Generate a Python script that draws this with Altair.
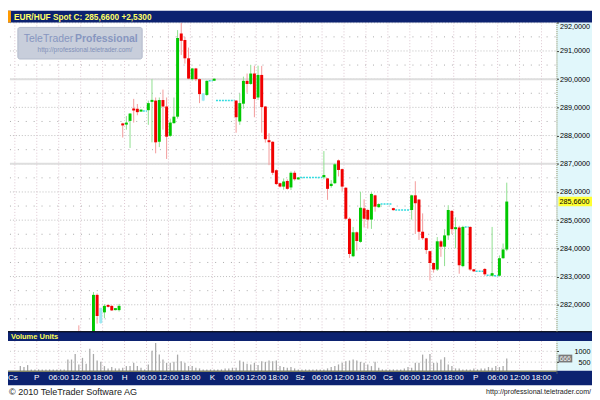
import altair as alt
import pandas as pd

# ---------------- data ----------------
# hourly candles: hour slot, open, high, low, close
hours = [11, 15, 16, 17, 18, 19, 20, 21, 22, 23, 24, 25, 26, 27, 28, 30, 31, 32, 33, 34,
         35, 36, 37, 38, 39, 40, 41, 42, 43, 44, 45, 46, 48, 54, 55, 56, 57, 58, 59, 60,
         61, 62, 63, 64, 65, 66, 67, 68, 69, 70, 71, 78, 79, 80, 81, 82, 83, 84, 85, 86,
         87, 88, 89, 90, 91, 92, 93, 97, 102, 103, 104, 105, 106, 107, 108, 109, 110, 111, 112, 113,
         114, 115, 116, 118, 119, 122, 124, 126, 127, 128]
opens = [281.00, 280.90, 282.35, 281.89, 281.73, 281.99, 281.96, 281.82, 281.81, 288.43,
         288.39, 288.52, 288.95, 288.95, 288.86, 288.90, 289.20, 289.24, 287.78, 289.26,
         289.03, 287.99, 288.44, 288.67, 291.62, 291.39, 290.74, 290.00, 290.38, 290.00,
         289.50, 289.44, 289.95, 289.24, 288.50, 289.13, 289.94, 289.83, 290.20, 289.35,
         290.15, 289.03, 287.83, 287.78, 286.77, 286.31, 286.19, 286.39, 286.16, 286.68,
         286.45, 286.52, 286.48, 286.21, 286.31, 287.12, 286.81, 286.15, 285.05, 283.72,
         284.57, 284.23, 285.42, 285.36, 285.02, 285.88, 285.46, 285.42, 285.36, 285.88,
         285.73, 284.59, 284.36, 283.90, 283.48, 283.25, 284.25, 284.06, 284.46, 285.33,
         284.68, 284.74, 283.37, 284.76, 283.25, 283.27, 283.03, 283.03, 283.65, 283.96]
highs = [281.27, 282.45, 282.40, 281.89, 282.02, 282.00, 281.98, 281.88, 282.03, 288.45,
         288.69, 288.80, 289.30, 289.12, 288.93, 289.24, 290.00, 289.35, 289.35, 289.63,
         289.35, 288.60, 289.35, 291.74, 292.00, 291.50, 291.12, 290.40, 290.40, 290.02,
         289.50, 289.96, 290.03, 289.26, 289.49, 290.09, 290.20, 290.51, 290.47, 290.48,
         290.47, 289.05, 288.08, 287.80, 286.80, 286.33, 286.48, 286.45, 286.73, 286.75,
         286.53, 287.45, 286.50, 286.42, 287.02, 287.15, 286.83, 286.17, 285.10, 284.76,
         284.60, 286.01, 285.74, 285.40, 285.99, 285.90, 285.60, 285.44, 285.90, 286.38,
         285.75, 285.24, 284.38, 283.92, 283.50, 284.40, 284.30, 284.68, 285.53, 285.35,
         285.10, 284.80, 284.80, 284.78, 283.27, 283.30, 284.76, 283.75, 284.17, 286.33]
lows = [280.70, 280.80, 281.33, 281.33, 281.53, 281.90, 281.78, 281.80, 281.76, 287.93,
        288.21, 287.56, 288.46, 288.72, 288.85, 288.38, 287.76, 287.37, 287.59, 288.21,
        287.17, 287.95, 288.42, 288.60, 290.86, 290.55, 290.00, 289.95, 289.93, 289.15,
        289.22, 289.40, 289.94, 288.10, 288.38, 288.95, 289.52, 289.80, 288.65, 289.26,
        288.10, 287.75, 286.95, 286.60, 286.25, 286.16, 286.08, 286.08, 286.07, 286.40,
        286.43, 286.45, 285.72, 286.15, 286.28, 286.55, 286.01, 285.00, 283.66, 283.69,
        283.92, 284.20, 284.74, 284.70, 284.69, 285.30, 285.44, 285.34, 285.02, 284.51,
        284.30, 284.30, 283.80, 282.86, 283.14, 283.20, 283.70, 283.37, 284.30, 284.51,
        284.00, 283.10, 283.33, 283.20, 283.17, 283.02, 283.00, 283.00, 283.63, 283.90]
closes = [280.80, 282.35, 281.60, 281.35, 281.96, 281.93, 281.80, 281.87, 281.96, 288.36,
          288.46, 288.78, 288.90, 288.83, 288.91, 289.15, 289.26, 287.76, 289.26, 289.03,
          287.96, 288.46, 288.67, 291.46, 291.36, 290.74, 290.02, 290.38, 290.00, 289.47,
          289.24, 289.94, 290.01, 288.65, 289.15, 289.94, 289.83, 290.20, 289.30, 290.15,
          289.01, 287.87, 287.77, 286.68, 286.28, 286.19, 286.37, 286.11, 286.68, 286.45,
          286.51, 286.60, 286.11, 286.29, 286.98, 286.78, 286.19, 285.05, 283.80, 284.57,
          284.26, 285.44, 285.05, 285.02, 285.93, 285.48, 285.57, 285.36, 285.88, 285.60,
          284.59, 284.36, 283.94, 283.48, 283.25, 284.25, 284.06, 284.46, 285.36, 284.68,
          284.75, 283.40, 284.76, 283.25, 283.19, 283.08, 283.12, 283.65, 283.96, 285.66]
flat_hours = [17, 45]   # bars drawn in cyan

# hours without trades (cyan dotted carry-over lines)
gap_from = [28.5, 46.5, 48.5, 71.5, 93.5, 97.5, 116.5, 119.5, 122.5, 124.5]
gap_to = [29.6, 47.6, 53.6, 77.6, 96.6, 101.6, 117.6, 121.6, 123.6, 125.6]
gap_price = [288.87, 289.94, 289.24, 286.51, 285.57, 285.36, 284.76, 283.19, 283.05, 283.03]

# hourly volume, slots -5 .. 128
volumes = [318, 273, 364, 166, 166,
           166, 166, 166, 166, 166, 166, 166, 166,
           621, 621, 879, 394, 697, 425, 1121, 879,
           575, 515, 318, 212, 273, 212, 212, 243,
           318, 318, 470, 318, 243, 166, 394, 1030,
           1379, 848, 621, 470, 470, 515, 848, 546,
           470, 318, 318, 243, 212, 166, 166, 166,
           166, 166, 166, 212, 212, 243, 243, 575,
           515, 425, 394, 470, 364, 546, 515, 575,
           546, 575, 318, 273, 243, 273, 212, 166,
           166, 166, 166, 166, 166, 166, 166, 212,
           273, 318, 394, 470, 546, 575, 621, 575,
           515, 470, 394, 318, 515, 243, 166, 166,
           166, 166, 166, 166, 212, 273, 243, 470,
           470, 848, 652, 879, 470, 470, 621, 727,
           394, 318, 212, 212, 166, 166, 166, 212,
           166, 212, 212, 273, 243, 318, 273, 318,
           666]
vol_hours = list(range(-5, -5 + len(volumes)))

tick_pos = [-6.5, -0.5, 5.5, 11.5, 17.5, 23.5, 29.5, 35.5, 41.5, 47.5, 53.5, 59.5, 65.5,
            71.5, 77.5, 83.5, 89.5, 95.5, 101.5, 107.5, 113.5, 119.5, 125.5, 131.5, 137.5]
tick_labels = ["Cs", "P", "06:00", "12:00", "18:00", "H", "06:00", "12:00", "18:00",
               "K", "06:00", "12:00", "18:00", "Sz", "06:00", "12:00", "18:00",
               "Cs", "06:00", "12:00", "18:00", "P", "06:00", "12:00", "18:00"]

price_ticks = [282, 283, 284, 285, 286, 287, 288, 289, 290, 291, 292]
strong_levels = [287, 290]
half_levels = [281.5, 282.5, 283.5, 284.5, 285.5, 286.5, 287.5, 288.5, 289.5, 290.5, 291.5]
vol_ticks = [500, 1000]
last_price = 285.66
last_volume = 666

title_text = "EUR/HUF Spot C: 285,6600 +2,5300"

# ---------------- layout (pixels) ----------------
W, H = 592, 392
X0, X1 = 2, 556          # plot columns
PT, PB = 12, 325         # price panel
VT, VB = 335, 365        # volume panel
AB = 380                 # bottom of the time band
FONT = "Liberation Sans"
NAVY = "#0c2270"
AXF = 7.3                # axis label size

xs = alt.Scale(domain=[-6.48, 140.25], range=[X0, X1], nice=False, zero=False)
ps = alt.Scale(domain=[281.06, 292.01], range=[PB, PT], clamp=True, nice=False, zero=False)
vs = alt.Scale(domain=[0, 1470], range=[367.3, VT], nice=False)

# ---------------- frames ----------------
df = pd.DataFrame(dict(h=hours, o=opens, hi=highs, lo=lows, c=closes))
kind = ["flat" if h in flat_hours else ("up" if c >= o else "down")
        for h, o, c in zip(df.h, df.o, df.c)]
body_cols = {"up": "#00c800", "down": "#f00000", "flat": "#9ee8f2"}
wick_cols = {"up": "#8fe08f", "down": "#f39a9a", "flat": "#9ee8f2"}
df["bc"] = [body_cols[k] for k in kind]
df["wc"] = [wick_cols[k] for k in kind]
mid = (df.o + df.c) / 2
half = ((df.c - df.o).abs() / 2).clip(lower=0.035)
df["b0"] = mid - half
df["b1"] = mid + half

gaps = pd.DataFrame(dict(a=gap_from, b=gap_to, p=gap_price))
vol = pd.DataFrame(dict(h=vol_hours, v=volumes))
ticks = pd.DataFrame(dict(pos=tick_pos, lab=tick_labels))
one = pd.DataFrame({"k": [0]})


def rect(x, x2, y, y2, color, **kw):
    return alt.Chart(one).mark_rect(color=color, **kw).encode(
        x=alt.value(x), x2=alt.value(x2), y=alt.value(y), y2=alt.value(y2))


def label(text, x, y, **kw):
    return alt.Chart(one).mark_text(text=text, font=FONT, **kw).encode(
        x=alt.value(x), y=alt.value(y))


layers = []
# axis column backgrounds
layers.append(rect(X1, W, PT, PB, "#e1f7fb"))
layers.append(rect(X1, W, VT, VB, "#e1f7fb"))

# horizontal grid + price axis
layers.append(alt.Chart(pd.DataFrame({"p": half_levels})).mark_rule(
    color="#a8a8a8", strokeDash=[1, 7]).encode(
    y=alt.Y("p:Q", scale=ps, axis=None), x=alt.value(X0), x2=alt.value(X1)))
layers.append(alt.Chart(pd.DataFrame({"p": price_ticks})).mark_rule(
    color="#bdbdbd", strokeDash=[1, 2]).encode(
    y=alt.Y("p:Q", scale=ps, axis=alt.Axis(
        orient="right", offset=-(W - X1), values=price_ticks, title=None, grid=False,
        labelExpr="replace(format(datum.value, '.4f'), '.', ',')",
        domainColor="#8a8a5a", domainDash=[1, 1], tickColor="#333333", tickSize=2,
        labelFont=FONT, labelFontSize=AXF, labelColor="#000000", labelPadding=1,
        labelFlush=True, labelOverlap=False, zindex=1)),
    x=alt.value(X0), x2=alt.value(X1)))
layers.append(alt.Chart(pd.DataFrame({"p": strong_levels})).mark_rule(
    color="#dedede", strokeWidth=2).encode(
    y=alt.Y("p:Q", scale=ps, axis=None), x=alt.value(X0), x2=alt.value(X1)))

# vertical grid (price and volume panels)
layers.append(alt.Chart(ticks).mark_rule(color="#dcc6d0", strokeDash=[1, 2]).encode(
    x=alt.X("pos:Q", scale=xs, axis=None), y=alt.value(PT), y2=alt.value(PB)))
layers.append(alt.Chart(ticks).mark_rule(color="#dcc6d0", strokeDash=[1, 2]).encode(
    x=alt.X("pos:Q", scale=xs, axis=None), y=alt.value(VT), y2=alt.value(VB)))
layers.append(alt.Chart(pd.DataFrame({"v": vol_ticks})).mark_rule(
    color="#c8c8c8", strokeDash=[1, 3]).encode(
    y=alt.Y("v:Q", scale=vs, axis=None), x=alt.value(X0), x2=alt.value(X1)))

# volume bars + volume axis
layers.append(alt.Chart(vol).mark_bar(size=1.3, color="#a9a9a9").encode(
    x=alt.X("h:Q", scale=xs, axis=None),
    y=alt.Y("v:Q", scale=vs, axis=alt.Axis(
        orient="right", offset=-(W - X1), values=vol_ticks, title=None, grid=False,
        format="d", domainColor="#8a8a5a", domainDash=[1, 1], tickColor="#333333", tickSize=2,
        labelFont=FONT, labelFontSize=AXF, labelColor="#000000", labelAlign="right",
        labelPadding=W - X1 - 4, labelFlush=False, labelOverlap=False, zindex=1))))

# carry-over lines
layers.append(alt.Chart(gaps).mark_rule(color="#33dce0", strokeDash=[2, 1], strokeWidth=1.5).encode(
    x=alt.X("a:Q", scale=xs, axis=None), x2="b:Q", y=alt.Y("p:Q", scale=ps, axis=None)))

# candles
layers.append(alt.Chart(df).mark_rule(strokeWidth=1).encode(
    x=alt.X("h:Q", scale=xs, axis=None),
    y=alt.Y("lo:Q", scale=ps, axis=None), y2="hi:Q",
    color=alt.Color("wc:N", scale=None)))
layers.append(alt.Chart(df).mark_bar(size=3).encode(
    x=alt.X("h:Q", scale=xs, axis=None),
    y=alt.Y("b0:Q", scale=ps, axis=None), y2="b1:Q",
    color=alt.Color("bc:N", scale=None)))

# last price / last volume markers on the axis column
lp = pd.DataFrame({"p": [last_price]})
layers.append(alt.Chart(lp).transform_calculate(
    a="datum.p - 0.17", b="datum.p + 0.17").mark_rect(color="#ffff33").encode(
    y=alt.Y("a:Q", scale=ps, axis=None), y2="b:Q", x=alt.value(X1 + 2), x2=alt.value(W)))
layers.append(alt.Chart(lp).transform_calculate(
    t="replace(format(datum.p, '.4f'), '.', ',')").mark_text(
    font=FONT, fontSize=AXF, align="left", baseline="middle", color="#000000").encode(
    y=alt.Y("p:Q", scale=ps, axis=None), x=alt.value(X1 + 3), text="t:N"))
lv = pd.DataFrame({"v": [last_volume]})
layers.append(alt.Chart(lv).transform_calculate(
    a="datum.v - 180", b="datum.v + 180").mark_rect(color="#7a7a7a").encode(
    y=alt.Y("a:Q", scale=vs, axis=None), y2="b:Q", x=alt.value(X1 + 2), x2=alt.value(X1 + 16)))
layers.append(alt.Chart(lv).mark_text(
    font=FONT, fontSize=7, align="left", baseline="middle", color="#f0f0f0").encode(
    y=alt.Y("v:Q", scale=vs, axis=None), x=alt.value(X1 + 3), text="v:N"))

# watermark logo
layers.append(rect(10, 136, 17, 49, "#c8cedb", stroke="#b3bacb", cornerRadius=2))
layers.append(label("TeleTrader", 16, 28.5, fontSize=10.6, align="left", baseline="middle", color="#8796c0"))
layers.append(label("Professional", 68, 28.5, fontSize=10.6, fontWeight="bold", align="left",
                    baseline="middle", color="#8796c0"))
layers.append(label("http://professional.teletrader.com/", 30, 40, fontSize=6.5, align="left",
                    baseline="middle", color="#8090b8"))

# title bar
layers.append(rect(0, W, 0, PT, NAVY))
layers.append(rect(0, 3, 0, PT, "#ff9a00"))
layers.append(label(title_text, 6, 6.5, fontSize=8.4, fontWeight="bold", align="left",
                    baseline="middle", color="#ffff66"))

# volume header bar
layers.append(rect(0, W, PB, VT, NAVY))
layers.append(alt.Chart(one).mark_rule(color="#000000", strokeWidth=1.2).encode(
    x=alt.value(0), x2=alt.value(W), y=alt.value(PB + 0.5)))
layers.append(label("Volume Units", 3, 330.5, fontSize=7.6, fontWeight="bold", align="left",
                    baseline="middle", color="#ffff55"))

# time band
layers.append(rect(0, W, VB, AB, NAVY))
layers.append(alt.Chart(one).mark_rule(color="#b8b060", strokeWidth=1).encode(
    x=alt.value(0), x2=alt.value(X1), y=alt.value(VB + 0.5)))
layers.append(alt.Chart(ticks).transform_filter("datum.pos > -6").mark_text(
    font=FONT, fontSize=8.2, color="#ffffff", baseline="middle").encode(
    x=alt.X("pos:Q", scale=xs, axis=None), y=alt.value(372.8), text="lab:N"))
layers.append(alt.Chart(ticks).transform_filter("datum.pos < -6").mark_text(
    font=FONT, fontSize=8.2, color="#ffffff", baseline="middle", align="left").encode(
    x=alt.value(0), y=alt.value(372.8), text="lab:N"))

# footer
layers.append(rect(0, W, AB, H, "#ffffff"))
layers.append(label("\u00a9 2010 TeleTrader Software AG", 1, 386.5, fontSize=9.2, align="left",
                    baseline="middle", color="#222222"))
layers.append(label("http://professional.teletrader.com/", W - 1, 387, fontSize=7.2, align="right",
                    baseline="middle", color="#222222"))

chart = alt.layer(*layers).resolve_scale(y="independent").properties(
    width=W, height=H, autosize=alt.AutoSizeParams(type="none"), padding=0,
    background="#ffffff"
).configure_view(stroke=None)

chart.save("out.html", embed_options={"renderer": "svg", "actions": False})
